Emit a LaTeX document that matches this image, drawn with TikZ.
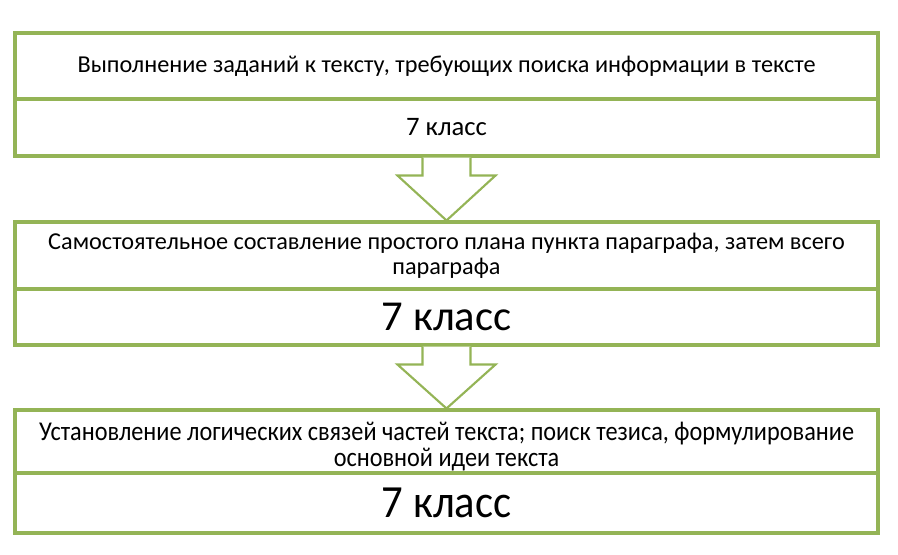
\documentclass[tikz,border=0pt]{standalone}
\usepackage{fontspec}
\setmainfont{Carlito}
\usetikzlibrary{calc}
\definecolor{boxgreen}{RGB}{148,180,86}

\tikzset{
    row/.style={draw=boxgreen, line width=2.3pt, minimum width=647.25pt,
    inner sep=0pt, align=center, fill=white},
    txt/.style={font=\fontsize{18.2}{18.75}\selectfont},
    smallcls/.style={font=\fontsize{20}{24}\selectfont},
    bigcls/.style={font=\fontsize{32}{38}\selectfont},
    downarrow/.style={draw=boxgreen, line width=1.6pt, fill=white, line join=miter}
}

\begin{document}
\begin{tikzpicture}[x=0.75pt, y=-0.75pt]
    \useasboundingbox (0,0) rectangle (898,554);

    \node[row, txt, minimum height=49.5pt] (t1) at (446.5,66)
    {Выполнение заданий к тексту, требующих поиска информации в тексте};
    \node[row, smallcls, minimum height=42.75pt] (c1) at (446.5,127.5) {7 класс};

    \node[row, txt, minimum height=50.25pt] (t2) at (446.5,255.5)
    {Самостоятельное составление простого плана пункта параграфа, затем всего\\ параграфа};
    \node[row, bigcls, minimum height=42pt] (c2) at (446.5,317) {7 класс};

    % last block is set a little taller
    \node[row, font=\fontsize{18.2}{17.4}\selectfont, minimum height=47.25pt] (t3) at (446.5,441.5)
    {\raisebox{-5.25pt}[\height][\depth]{\scalebox{1}[1.12]{\begin{tabular}{@{}c@{}}Установление логических связей
    частей текста; поиск тезиса, формулирование\\ основной идеи текста\end{tabular}}}};
    \node[row, bigcls, minimum height=45pt] (c3) at (446.5,503) {\scalebox{1}[1.08]{7 класс}};

    % arrows between the blocks
    \foreach \a/\b in {c1/t2, c2/t3}{
        \draw[downarrow] ($(\a.south)+(-18pt,0)$) -- ++(0,-13.5pt) -- ++(-18.75pt,0)
        -- (\b.north) -- ($(\a.south)+(36.75pt,-13.5pt)$) -- ++(-18.75pt,0)
        -- ($(\a.south)+(18pt,0)$);
    }
\end{tikzpicture}
\end{document}
